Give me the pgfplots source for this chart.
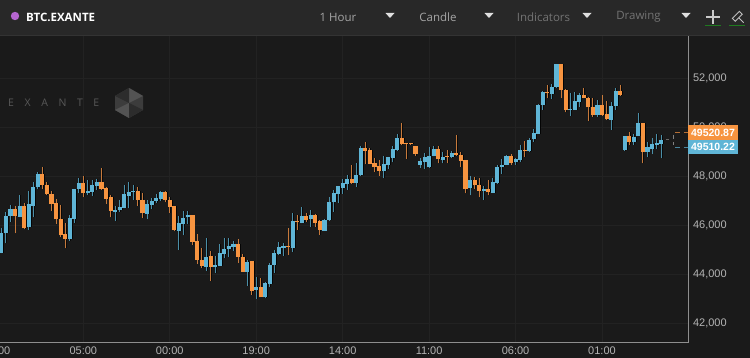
\documentclass[border=0pt]{standalone}
\usepackage{pgfplots}
\usepackage{pgfplotstable}
\usepackage{fontspec}
\setmainfont{Liberation Sans}
\newfontfamily\osans{Open Sans}
\pgfplotsset{compat=1.18}
\definecolor{bgc}{HTML}{1A1A1A}
\definecolor{headc}{HTML}{282828}
\definecolor{gridc}{HTML}{222222}
\definecolor{axc}{HTML}{8E8E8E}
\definecolor{labc}{HTML}{B4B4B4}
\definecolor{bluec}{HTML}{5FB5D6}
\definecolor{orc}{HTML}{F79440}
\definecolor{bluew}{HTML}{4B8FA8}
\definecolor{orw}{HTML}{C77A3C}
\definecolor{dotc}{HTML}{B565D0}
\definecolor{greenu}{HTML}{1F7A1F}
\pgfplotstableread{
i h t b l
0 45865 45661 44845 44845
1 46545 46368 45661 45253
2 46817 46667 46368 46137
4 47225 46776 46341 46314
6 47388 46844 45906 45797
7 47769 47538 46776 46314
8 48177 48082 47538 47456
15 46395 46273 45430 45348
16 47483 47470 46246 46096
17 47905 47728 47470 47320
19 47837 47402 47293 47225
20 47837 47619 47361 47184
21 47864 47769 47592 47429
25 46776 46627 46531 46178
26 47021 46735 46613 46531
27 47633 47252 46708 46681
28 47769 47347 47198 46681
29 47633 47402 47347 47021
32 47021 46858 46450 46232
33 47089 46994 46831 46654
34 47266 47103 46994 46912
35 47402 47361 47048 46994
39 46368 46069 45770 44981
40 46586 46300 46042 45579
41 46572 46409 46314 46042
45 45484 44709 44301 44138
47 44736 44369 44301 44056
48 45226 44845 44342 44328
49 45457 45022 44818 44641
50 45457 45144 45008 44709
51 45348 45239 45103 44940
54 44573 44505 44097 43512
56 43866 43485 43349 42968
58 43689 43621 43050 43009
59 44437 44369 43580 43485
60 44981 44845 44369 44056
61 45321 45090 44818 44777
62 45253 45144 45076 44736
64 46504 46164 45076 44899
66 46722 46382 46096 46069
68 46613 46409 46245 45933
71 46232 46205 45770 45770
72 47157 46953 46205 46177
73 47429 47293 46926 46545
74 47606 47592 47266 46912
75 47865 47701 47524 47266
76 48042 47879 47675 47430
78 48518 48056 47729 47566
79 49239 49157 48028 48001
84 48831 48491 48219 47906
85 48790 48763 48436 48300
86 49239 49089 48749 48559
87 49715 49552 49048 49035
92 48722 48613 48464 48328
93 48926 48790 48559 48300
94 49171 48831 48355 48328
95 49225 49116 48831 48804
97 48994 48776 48654 48518
99 49035 48926 48763 48722
103 48001 47838 47512 47212
106 47593 47471 47389 47022
108 47906 47756 47321 47321
109 48450 48382 47729 47675
110 48695 48450 48382 48083
111 48858 48817 48464 48450
113 48722 48681 48559 48450
114 49266 49062 48654 48586
116 49538 49470 49035 48994
117 49920 49743 49498 49403
118 50926 50899 49716 49716
119 51470 51429 50899 50695
121 51742 51647 51348 51144
122 52558 52558 51620 51579
125 51375 50736 50695 50464
126 51416 51062 50695 50695
127 51375 51307 51035 50831
131 51103 50899 50491 50423
134 51035 50872 50287 49879
135 51579 51470 50858 50695
137 49648 49634 49063 49036
139 49702 49593 49376 49267
140 50559 50178 49634 49634
142 49376 49172 48995 48791
143 49539 49294 49090 48886
144 49716 49349 49267 49090
145 49675 49471 49308 48723
}\bluetable
\pgfplotstableread{
i h t b l
3 46776 46667 46368 45661
5 46912 46776 45865 45824
9 48381 48082 47633 47456
10 47769 47633 47266 47225
11 47388 47266 46858 46586
12 47048 46885 46232 46042
13 46803 46232 45579 45498
14 46096 45647 45430 45049
18 48000 47728 47293 47157
22 48340 47769 47470 47429
23 47565 47497 47075 46858
24 47225 47130 46572 46314
30 47565 47402 47021 46776
31 47320 47021 46477 46273
36 47388 47361 47035 46926
37 47130 47035 46749 46504
38 46776 46776 45797 45743
42 46409 46409 45321 45185
43 45634 45348 44573 44410
44 45049 44573 44328 44233
46 44940 44723 44301 43730
52 45416 45239 44709 44464
53 44818 44682 44097 44097
55 44532 44532 43322 43145
57 43852 43485 43050 43050
63 45865 45144 45103 44777
65 46409 46164 46110 45797
67 46477 46368 46205 46137
69 46450 46409 46096 45933
70 46205 46164 45797 45593
77 48450 47865 47729 47675
80 49402 49144 49021 48477
81 49130 49048 48504 48477
82 48722 48518 48382 48178
83 48654 48423 48219 48001
88 50150 49552 49320 49252
89 49361 49348 49293 48695
90 49361 49348 49320 49266
91 49225 49225 48899 48831
96 49225 49116 48681 48518
98 49062 48831 48776 48518
100 49660 48926 48844 48817
101 48994 48844 48627 48382
102 48654 48640 47484 47294
104 47974 47838 47620 47484
105 47906 47648 47389 47131
107 47838 47457 47348 47240
112 48899 48817 48545 48450
115 49443 49062 49021 48790
120 51715 51429 51375 51171
123 52558 52558 51511 51171
124 51538 51525 50695 50600
128 51606 51307 51198 51171
129 51239 51198 50804 50246
130 51198 50831 50491 50423
132 51307 50899 50491 50450
133 51062 50518 50314 50287
136 51715 51470 51307 51280
138 49811 49634 49376 49267
141 50178 50151 48995 48519
}\orangetable
\pgfplotsset{
  cand/.style={mark=none,draw=none,forget plot,
    error bars/y dir=plus,error bars/y explicit,error bars/error mark=none,
    error bars/error bar style={solid,line cap=butt,#1}},
}
\newcommand{\wicks}[2]{\addplot[cand={draw=#2,line width=1pt}] table[x=i,y=l,y error plus expr=\thisrow{h}-\thisrow{l}] {#1};}
\newcommand{\bodies}[2]{\addplot[cand={draw=#2,line width=4.1pt}] table[x=i,y=b,y error plus expr=\thisrow{t}-\thisrow{b}] {#1};}
\newcommand{\shadow}[1]{\addplot[cand={draw=black!85!bgc,line width=4.1pt}] table[x expr=\thisrow{i}+0.2,y=b,y error plus expr=\thisrow{t}-\thisrow{b}] {#1};
\addplot[cand={draw=black!70!bgc,line width=1pt}] table[x expr=\thisrow{i}+0.2,y=l,y error plus expr=\thisrow{h}-\thisrow{l}] {#1};}
\begin{document}
\begin{tikzpicture}[x=1pt,y=1pt]
\path[use as bounding box,clip] (0,0) rectangle (750,358);
\begin{scope}[y=-1pt,yshift=358pt]
\fill[bgc] (0,0) rectangle (750,358);
\fill[headc] (0,0) rectangle (750,35);
\fill[white!5!headc] (0,35) rectangle (750,36);
\end{scope}
\begin{axis}[
  at={(0pt,16pt)},anchor=south west,scale only axis,width=688pt,height=306pt,
  xmin=-0.31,xmax=150.9,ymin=41224,ymax=53714,
  xtick={18,37,56,75,94,113,132},
  xticklabels={05:00,00:00,19:00,14:00,11:00,06:00,01:00},
  ytick={42000,44000,46000,48000,50000,52000},
  yticklabel pos=right,
  /pgf/number format/assume math mode=true,
  /pgf/number format/1000 sep={,},
  scaled y ticks=false,
  grid=major,major grid style={gridc,line width=0.8pt},
  major tick length=0pt,
  axis line style={draw=none},
  tick label style={font=\fontsize{11}{12}\selectfont,text=labc},
  yticklabel style={xshift=1.5pt},
  xticklabel style={yshift=-1pt},
  clip=true,
]
\shadow{\bluetable}
\shadow{\orangetable}
\wicks{\bluetable}{bluew}
\wicks{\orangetable}{orw}
\bodies{\bluetable}{bluec}
\bodies{\orangetable}{orc}
\end{axis}
\begin{scope}[y=-1pt,yshift=358pt]
% axis frame
\draw[axc,line width=0.9pt] (0,342) -- (688,342) -- (688,36);
\node[font=\fontsize{11}{12}\selectfont,text=labc] at (-3.4,351) {10:00};
% watermark
\node[anchor=west,text=white!27!bgc,font=\osans\fontsize{10.5}{12}\selectfont,inner sep=0] at (8,103) {E\hspace{10.6pt}X\hspace{10.6pt}A\hspace{10.6pt}N\hspace{10.6pt}T\hspace{10.6pt}E};
\fill[white!15!bgc] (129,88)--(143,96)--(143,110)--(129,118)--(115,110)--(115,96)--cycle;
\fill[white!25!bgc] (129,103)--(129,88)--(143,96)--cycle;
\fill[white!8!bgc] (129,103)--(115,96)--(129,88)--cycle;
\fill[white!25!bgc] (129,103)--(115,110)--(129,118)--cycle;
\fill[white!8!bgc] (129,103)--(143,110)--(129,118)--cycle;
% header
\fill[dotc] (15,16) circle (4.2);
\node[anchor=west,inner sep=0,text=white,font=\osans\bfseries\fontsize{11.5}{12}\selectfont] at (26,17) {BTC.EXANTE};
\node[inner sep=0,text=white!58!headc,font=\osans\fontsize{11.5}{12}\selectfont] at (338,17) {1 Hour};
\node[inner sep=0,text=white!58!headc,font=\osans\fontsize{11.5}{12}\selectfont] at (438,17) {Candle};
\node[inner sep=0,text=white!35!headc,font=\osans\fontsize{11.5}{12}\selectfont] at (543.5,17) {Indicators};
\node[inner sep=0,text=white!35!headc,font=\osans\fontsize{11.5}{12}\selectfont] at (638.5,17) {Drawing};
\foreach \tx in {390,489,587,686}{\fill[white!85!headc] (\tx-4.5,13)--(\tx+4.5,13)--(\tx,18)--cycle;}
\draw[white!75!headc,line width=1.2pt] (713,10)--(713,24) (706,17)--(720,17);
\draw[greenu,line width=0.9pt] (705,25.5)--(721,25.5) (729,25.5)--(745,25.5);
\draw[white!70!headc,line width=0.9pt,rotate around={45:(738,17)}] (733,14) rectangle (743,18) (738,18)--(738,25);
% price tags
\draw[orc!70!bgc,line width=0.9pt,dash pattern=on 5pt off 4pt] (675,132)--(688,132);
\draw[bluec!70!bgc,line width=0.9pt,dash pattern=on 5pt off 4pt] (675,147)--(688,147);
\draw[white!45!bgc,line width=0.9pt,dash pattern=on 4pt off 3pt] (673.5,135)--(673.5,145);
\draw[white!35!bgc,line width=1pt] (666,139.5)--(669,139.5);
\fill[orc] (688,125.5) rectangle (738,140);
\fill[bluec] (688,140) rectangle (738,154.5);
\node[text=white,font=\bfseries\fontsize{10.5}{12}\selectfont,inner sep=0] at (713,132.8) {49520.87};
\node[text=white,font=\bfseries\fontsize{10.5}{12}\selectfont,inner sep=0] at (713,147.3) {49510.22};
\end{scope}
\end{tikzpicture}
\end{document}
